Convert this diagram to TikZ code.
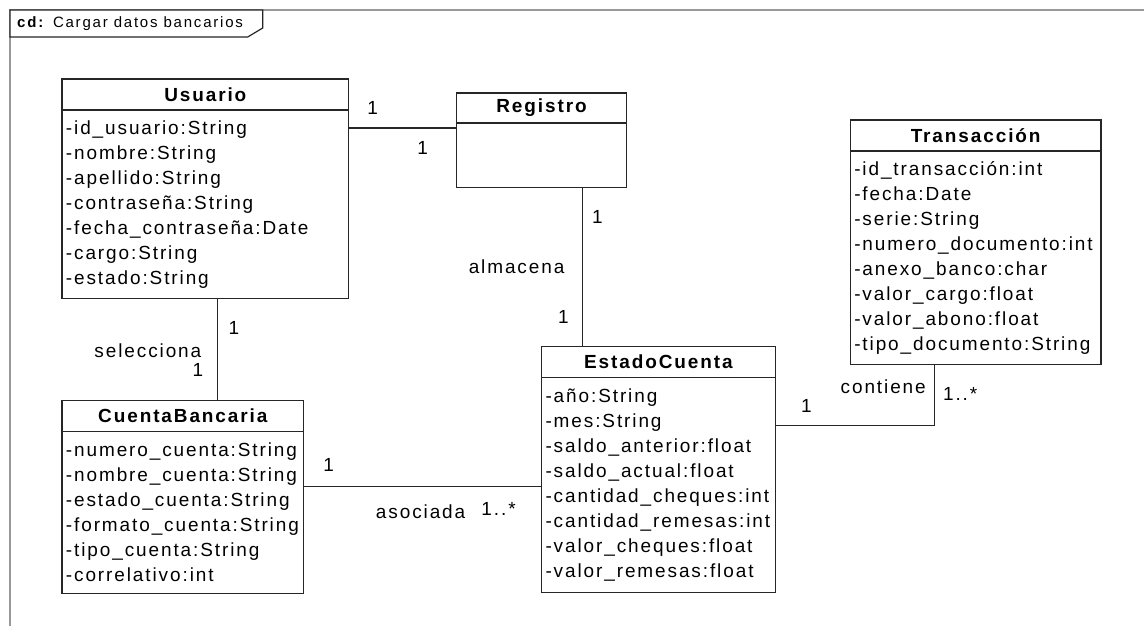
\documentclass[tikz,border=0pt]{standalone}
\usepackage{fontspec}
\usetikzlibrary{positioning}
\newfontfamily\umlfont[LetterSpace=10]{Liberation Sans}
\newfontfamily\tabfont[LetterSpace=12]{Liberation Sans}
\tikzset{
    classhead/.style = {rectangle, draw=black!85, line width=1.3pt, outer sep=0pt, inner sep=0pt,
                        minimum height=31pt, font=\umlfont\bfseries\fontsize{19}{25}\selectfont},
    classbody/.style = {rectangle, draw=black!85, line width=1.3pt, outer sep=0pt, inner xsep=4pt,
                        inner ysep=0pt, align=left, font=\umlfont\fontsize{19}{25}\selectfont},
    assoc/.style = {draw=black!85, line width=1.3pt},
    mult/.style = {inner sep=0pt, font=\umlfont\fontsize{19}{22}\selectfont},
    frameline/.style = {draw=black!40, line width=2pt},
    tabline/.style = {draw=black!85, line width=1.2pt, fill=white}
}

\begin{document}
\begin{tikzpicture}[x=1pt, y=-1pt]
\path[fill=white] (0,0) rectangle (1145,627);
%
% diagram frame and its name tab
\draw[frameline] (10,627) -- (10,10) -- (1145,10);
\draw[tabline] (10,10) -- (263,10) -- (263,28) -- (248,37) -- (10,37) -- cycle;
\node[anchor=west, inner sep=0pt, font=\tabfont\fontsize{15}{18}\selectfont] (tabname) at (17,23.5)
    {\textbf{cd:} Cargar datos bancarios};
%
% classes
\node[classhead, minimum width=287pt] at (205.5,94.5) (usuarioH) {Usuario};
\node[classbody, minimum width=287pt, minimum height=189pt, text width=279pt,
      below=0pt of usuarioH] (usuarioB) {-id\_usuario:String\\-nombre:String\\-apellido:String\\-contraseña:String\\-fecha\_contraseña:Date\\-cargo:String\\-estado:String};

\node[classhead, minimum width=170pt, minimum height=30pt] at (542,108) (registroH) {Registro};
\node[classbody, minimum width=170pt, minimum height=65pt, below=0pt of registroH] (registroB) {};

\node[classhead, minimum width=251pt] at (976.5,135.5) (transH) {Transacción};
\node[classbody, minimum width=251pt, minimum height=214pt, text width=243pt,
      below=0pt of transH] (transB) {-id\_transacción:int\\-fecha:Date\\-serie:String\\-numero\_documento:int\\-anexo\_banco:char\\-valor\_cargo:float\\-valor\_abono:float\\-tipo\_documento:String};

\node[classhead, minimum width=242pt] at (183,416.5) (cuentaH) {CuentaBancaria};
\node[classbody, minimum width=242pt, minimum height=162pt, text width=234pt,
      below=0pt of cuentaH] (cuentaB) {-numero\_cuenta:String\\-nombre\_cuenta:String\\-estado\_cuenta:String\\-formato\_cuenta:String\\-tipo\_cuenta:String\\-correlativo:int};

\node[classhead, minimum width=234pt] at (659,362.5) (estadoH) {EstadoCuenta};
\node[classbody, minimum width=234pt, minimum height=215pt, text width=226pt,
      below=0pt of estadoH] (estadoB) {-año:String\\-mes:String\\-saldo\_anterior:float\\-saldo\_actual:float\\-cantidad\_cheques:int\\-cantidad\_remesas:int\\-valor\_cheques:float\\-valor\_remesas:float};
%
% associations
\coordinate (r1) at ([yshift=-5pt]registroB.north west);
\draw[assoc] (r1) -- (r1 -| usuarioB.east);
\coordinate (r2) at ([xshift=41pt]registroB.south);
\draw[assoc] (r2) -- (r2 |- estadoH.north);
\coordinate (u1) at ([xshift=12.5pt]usuarioB.south);
\draw[assoc] (u1) -- (u1 |- cuentaH.north);
\coordinate (c1) at ([yshift=-55pt]cuentaB.north east);
\draw[assoc] (c1) -- (c1 -| estadoB.west);
\coordinate (e1) at ([yshift=-48pt]estadoB.north east);
\coordinate (t1) at ([xshift=-41.5pt]transB.south);
\draw[assoc] (e1) -| (t1);
%
% roles and multiplicities
\node[mult] at (373,108) (m1) {1};
\node[mult] at (423,148) (m2) {1};
\node[mult] at (598,217) (m3) {1};
\node[mult] at (517,267) (almacena) {almacena};
\node[mult] at (564,317) (m4) {1};
\node[mult] at (234,328) (m5) {1};
\node[mult] at (148,351) (selecciona) {selecciona};
\node[mult] at (198,370) (m6) {1};
\node[mult] at (329,465) (m7) {1};
\node[mult] at (421,512) (asociada) {asociada};
\node[mult] at (499,509) (m8) {1..*};
\node[mult] at (807,406) (m9) {1};
\node[mult] at (884,387) (contiene) {contiene};
\node[mult] at (961,394) (m10) {1..*};

\end{tikzpicture}
\end{document}
